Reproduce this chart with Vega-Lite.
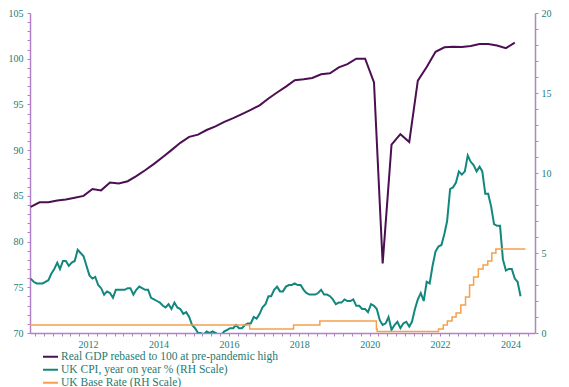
{
  "$schema": "https://vega.github.io/schema/vega-lite/v6.json",
  "width": 505,
  "height": 320,
  "autosize": {"type": "none"},
  "padding": {"left": 30, "top": 13, "right": 34, "bottom": 54},
  "background": "white",
  "config": {
    "view": {"stroke": null},
    "font": "Liberation Serif",
    "axis": {"grid": false, "labelFont": "Liberation Serif", "labelFontSize": 10, "labelColor": "#1b7d78", "domainColor": "#b27fc9", "tickColor": "#b27fc9", "domainWidth": 1.5, "tickWidth": 1, "tickSize": 3, "title": null},
    "legend": {"labelFont": "Liberation Serif", "labelFontSize": 11.5, "labelColor": "#1f7a70"}
  },
  "datasets": {
    "gdp": [
      {"date": "2010-05-15", "value": 83.8}, {"date": "2010-08-15", "value": 84.3}, {"date": "2010-11-15", "value": 84.3}, {"date": "2011-02-15", "value": 84.5},
      {"date": "2011-05-15", "value": 84.6}, {"date": "2011-08-15", "value": 84.8}, {"date": "2011-11-15", "value": 85.0}, {"date": "2012-02-15", "value": 85.75},
      {"date": "2012-05-15", "value": 85.6}, {"date": "2012-08-15", "value": 86.45}, {"date": "2012-11-15", "value": 86.35}, {"date": "2013-02-15", "value": 86.6},
      {"date": "2013-05-15", "value": 87.15}, {"date": "2013-08-15", "value": 87.8}, {"date": "2013-11-15", "value": 88.5}, {"date": "2014-02-15", "value": 89.25},
      {"date": "2014-05-15", "value": 90.0}, {"date": "2014-08-15", "value": 90.8}, {"date": "2014-11-15", "value": 91.45}, {"date": "2015-02-15", "value": 91.7},
      {"date": "2015-05-15", "value": 92.2}, {"date": "2015-08-15", "value": 92.6}, {"date": "2015-11-15", "value": 93.1}, {"date": "2016-02-15", "value": 93.5},
      {"date": "2016-05-15", "value": 93.95}, {"date": "2016-08-15", "value": 94.4}, {"date": "2016-11-15", "value": 94.9}, {"date": "2017-02-15", "value": 95.65},
      {"date": "2017-05-15", "value": 96.3}, {"date": "2017-08-15", "value": 96.95}, {"date": "2017-11-15", "value": 97.65}, {"date": "2018-02-15", "value": 97.75},
      {"date": "2018-05-15", "value": 97.9}, {"date": "2018-08-15", "value": 98.3}, {"date": "2018-11-15", "value": 98.4}, {"date": "2019-02-15", "value": 99.05},
      {"date": "2019-05-15", "value": 99.4}, {"date": "2019-08-15", "value": 100.0}, {"date": "2019-11-15", "value": 100.0}, {"date": "2020-02-15", "value": 97.4},
      {"date": "2020-05-15", "value": 77.6}, {"date": "2020-08-15", "value": 90.6}, {"date": "2020-11-15", "value": 91.75}, {"date": "2021-02-15", "value": 90.9},
      {"date": "2021-05-15", "value": 97.6}, {"date": "2021-08-15", "value": 99.1}, {"date": "2021-11-15", "value": 100.75}, {"date": "2022-02-15", "value": 101.25},
      {"date": "2022-05-15", "value": 101.3}, {"date": "2022-08-15", "value": 101.28}, {"date": "2022-11-15", "value": 101.4}, {"date": "2023-02-15", "value": 101.6},
      {"date": "2023-05-15", "value": 101.6}, {"date": "2023-08-15", "value": 101.45}, {"date": "2023-11-15", "value": 101.15}, {"date": "2024-02-15", "value": 101.75}
    ],
    "cpi": [
      {"date": "2010-05-15", "value": 3.4}, {"date": "2010-06-15", "value": 3.2}, {"date": "2010-07-15", "value": 3.1}, {"date": "2010-08-15", "value": 3.1},
      {"date": "2010-09-15", "value": 3.1}, {"date": "2010-10-15", "value": 3.2}, {"date": "2010-11-15", "value": 3.3}, {"date": "2010-12-15", "value": 3.7},
      {"date": "2011-01-15", "value": 4.0}, {"date": "2011-02-15", "value": 4.4}, {"date": "2011-03-15", "value": 4.0}, {"date": "2011-04-15", "value": 4.5},
      {"date": "2011-05-15", "value": 4.5}, {"date": "2011-06-15", "value": 4.2}, {"date": "2011-07-15", "value": 4.4}, {"date": "2011-08-15", "value": 4.5},
      {"date": "2011-09-15", "value": 5.2}, {"date": "2011-10-15", "value": 5.0}, {"date": "2011-11-15", "value": 4.8}, {"date": "2011-12-15", "value": 4.2},
      {"date": "2012-01-15", "value": 3.6}, {"date": "2012-02-15", "value": 3.4}, {"date": "2012-03-15", "value": 3.5}, {"date": "2012-04-15", "value": 3.0},
      {"date": "2012-05-15", "value": 2.8}, {"date": "2012-06-15", "value": 2.4}, {"date": "2012-07-15", "value": 2.6}, {"date": "2012-08-15", "value": 2.5},
      {"date": "2012-09-15", "value": 2.2}, {"date": "2012-10-15", "value": 2.7}, {"date": "2012-11-15", "value": 2.7}, {"date": "2012-12-15", "value": 2.7},
      {"date": "2013-01-15", "value": 2.7}, {"date": "2013-02-15", "value": 2.8}, {"date": "2013-03-15", "value": 2.8}, {"date": "2013-04-15", "value": 2.4},
      {"date": "2013-05-15", "value": 2.7}, {"date": "2013-06-15", "value": 2.9}, {"date": "2013-07-15", "value": 2.8}, {"date": "2013-08-15", "value": 2.7},
      {"date": "2013-09-15", "value": 2.7}, {"date": "2013-10-15", "value": 2.2}, {"date": "2013-11-15", "value": 2.1}, {"date": "2013-12-15", "value": 2.0},
      {"date": "2014-01-15", "value": 1.9}, {"date": "2014-02-15", "value": 1.7}, {"date": "2014-03-15", "value": 1.6}, {"date": "2014-04-15", "value": 1.8},
      {"date": "2014-05-15", "value": 1.5}, {"date": "2014-06-15", "value": 1.9}, {"date": "2014-07-15", "value": 1.6}, {"date": "2014-08-15", "value": 1.5},
      {"date": "2014-09-15", "value": 1.2}, {"date": "2014-10-15", "value": 1.3}, {"date": "2014-11-15", "value": 1.0}, {"date": "2014-12-15", "value": 0.5},
      {"date": "2015-01-15", "value": 0.3}, {"date": "2015-02-15", "value": 0.0}, {"date": "2015-03-15", "value": 0.0}, {"date": "2015-04-15", "value": -0.1},
      {"date": "2015-05-15", "value": 0.1}, {"date": "2015-06-15", "value": 0.0}, {"date": "2015-07-15", "value": 0.1}, {"date": "2015-08-15", "value": 0.0},
      {"date": "2015-09-15", "value": -0.1}, {"date": "2015-10-15", "value": -0.1}, {"date": "2015-11-15", "value": 0.1}, {"date": "2015-12-15", "value": 0.2},
      {"date": "2016-01-15", "value": 0.3}, {"date": "2016-02-15", "value": 0.3}, {"date": "2016-03-15", "value": 0.5}, {"date": "2016-04-15", "value": 0.3},
      {"date": "2016-05-15", "value": 0.3}, {"date": "2016-06-15", "value": 0.5}, {"date": "2016-07-15", "value": 0.6}, {"date": "2016-08-15", "value": 0.6},
      {"date": "2016-09-15", "value": 1.0}, {"date": "2016-10-15", "value": 0.9}, {"date": "2016-11-15", "value": 1.2}, {"date": "2016-12-15", "value": 1.6},
      {"date": "2017-01-15", "value": 1.8}, {"date": "2017-02-15", "value": 2.3}, {"date": "2017-03-15", "value": 2.3}, {"date": "2017-04-15", "value": 2.7},
      {"date": "2017-05-15", "value": 2.9}, {"date": "2017-06-15", "value": 2.6}, {"date": "2017-07-15", "value": 2.6}, {"date": "2017-08-15", "value": 2.9},
      {"date": "2017-09-15", "value": 3.0}, {"date": "2017-10-15", "value": 3.0}, {"date": "2017-11-15", "value": 3.1}, {"date": "2017-12-15", "value": 3.0},
      {"date": "2018-01-15", "value": 3.0}, {"date": "2018-02-15", "value": 2.7}, {"date": "2018-03-15", "value": 2.5}, {"date": "2018-04-15", "value": 2.4},
      {"date": "2018-05-15", "value": 2.4}, {"date": "2018-06-15", "value": 2.4}, {"date": "2018-07-15", "value": 2.5}, {"date": "2018-08-15", "value": 2.7},
      {"date": "2018-09-15", "value": 2.4}, {"date": "2018-10-15", "value": 2.4}, {"date": "2018-11-15", "value": 2.3}, {"date": "2018-12-15", "value": 2.1},
      {"date": "2019-01-15", "value": 1.8}, {"date": "2019-02-15", "value": 1.9}, {"date": "2019-03-15", "value": 1.9}, {"date": "2019-04-15", "value": 2.1},
      {"date": "2019-05-15", "value": 2.0}, {"date": "2019-06-15", "value": 2.0}, {"date": "2019-07-15", "value": 2.1}, {"date": "2019-08-15", "value": 1.7},
      {"date": "2019-09-15", "value": 1.7}, {"date": "2019-10-15", "value": 1.5}, {"date": "2019-11-15", "value": 1.5}, {"date": "2019-12-15", "value": 1.3},
      {"date": "2020-01-15", "value": 1.8}, {"date": "2020-02-15", "value": 1.7}, {"date": "2020-03-15", "value": 1.5}, {"date": "2020-04-15", "value": 0.8},
      {"date": "2020-05-15", "value": 0.5}, {"date": "2020-06-15", "value": 0.6}, {"date": "2020-07-15", "value": 1.0}, {"date": "2020-08-15", "value": 0.2},
      {"date": "2020-09-15", "value": 0.5}, {"date": "2020-10-15", "value": 0.7}, {"date": "2020-11-15", "value": 0.3}, {"date": "2020-12-15", "value": 0.6},
      {"date": "2021-01-15", "value": 0.7}, {"date": "2021-02-15", "value": 0.4}, {"date": "2021-03-15", "value": 0.7}, {"date": "2021-04-15", "value": 1.5},
      {"date": "2021-05-15", "value": 2.1}, {"date": "2021-06-15", "value": 2.5}, {"date": "2021-07-15", "value": 2.0}, {"date": "2021-08-15", "value": 3.2},
      {"date": "2021-09-15", "value": 3.1}, {"date": "2021-10-15", "value": 4.2}, {"date": "2021-11-15", "value": 5.1}, {"date": "2021-12-15", "value": 5.4},
      {"date": "2022-01-15", "value": 5.5}, {"date": "2022-02-15", "value": 6.2}, {"date": "2022-03-15", "value": 7.0}, {"date": "2022-04-15", "value": 9.0},
      {"date": "2022-05-15", "value": 9.1}, {"date": "2022-06-15", "value": 9.4}, {"date": "2022-07-15", "value": 10.1}, {"date": "2022-08-15", "value": 9.9},
      {"date": "2022-09-15", "value": 10.1}, {"date": "2022-10-15", "value": 11.1}, {"date": "2022-11-15", "value": 10.7}, {"date": "2022-12-15", "value": 10.5},
      {"date": "2023-01-15", "value": 10.1}, {"date": "2023-02-15", "value": 10.4}, {"date": "2023-03-15", "value": 10.1}, {"date": "2023-04-15", "value": 8.7},
      {"date": "2023-05-15", "value": 8.7}, {"date": "2023-06-15", "value": 7.9}, {"date": "2023-07-15", "value": 6.8}, {"date": "2023-08-15", "value": 6.7},
      {"date": "2023-09-15", "value": 6.7}, {"date": "2023-10-15", "value": 4.6}, {"date": "2023-11-15", "value": 3.9}, {"date": "2023-12-15", "value": 4.0},
      {"date": "2024-01-15", "value": 4.0}, {"date": "2024-02-15", "value": 3.4}, {"date": "2024-03-15", "value": 3.2}, {"date": "2024-04-15", "value": 2.3}
    ],
    "rate": [
      {"date": "2010-05-08", "value": 0.5}, {"date": "2016-08-04", "value": 0.25}, {"date": "2017-11-02", "value": 0.5}, {"date": "2018-08-02", "value": 0.75},
      {"date": "2020-03-11", "value": 0.25}, {"date": "2020-03-19", "value": 0.1}, {"date": "2021-12-16", "value": 0.25}, {"date": "2022-02-03", "value": 0.5},
      {"date": "2022-03-17", "value": 0.75}, {"date": "2022-05-05", "value": 1.0}, {"date": "2022-06-16", "value": 1.25}, {"date": "2022-08-04", "value": 1.75},
      {"date": "2022-09-22", "value": 2.25}, {"date": "2022-11-03", "value": 3.0}, {"date": "2022-12-15", "value": 3.5}, {"date": "2023-02-02", "value": 4.0},
      {"date": "2023-03-23", "value": 4.25}, {"date": "2023-05-11", "value": 4.5}, {"date": "2023-06-22", "value": 5.0}, {"date": "2023-08-03", "value": 5.25},
      {"date": "2024-06-05", "value": 5.25}
    ]
  },
  "layer": [
    {
      "data": {"name": "gdp"},
      "mark": {"type": "line", "strokeWidth": 2, "clip": true},
      "encoding": {
        "x": {"field": "date", "type": "temporal",
              "scale": {"domain": [{"year": 2010, "month": 5, "date": 8}, {"year": 2024, "month": 9, "date": 12}]},
              "axis": {"tickCount": {"interval": "month", "step": 3}, "labelOverlap": false, "labelPadding": 3, "labelFontSize": 10,
                       "labelExpr": "month(datum.value) === 0 && year(datum.value) % 2 === 0 ? timeFormat(datum.value, '%Y') : ''"}},
        "y": {"field": "value", "type": "quantitative",
              "scale": {"domain": [70, 105], "nice": false, "zero": false},
              "axis": {"values": [70,71,72,73,74,75,76,77,78,79,80,81,82,83,84,85,86,87,88,89,90,91,92,93,94,95,96,97,98,99,100,101,102,103,104,105],
                       "labelExpr": "datum.value % 5 === 0 ? datum.label : ''", "labelPadding": 4, "labelOverlap": false}},
        "color": {"datum": "Real GDP rebased to 100 at pre-pandemic high", "type": "nominal",
                  "scale": {"domain": ["Real GDP rebased to 100 at pre-pandemic high", "UK CPI, year on year % (RH Scale)", "UK Base Rate (RH Scale)"],
                            "range": ["#4b0f52", "#12877e", "#f4a04c"]},
                  "legend": {"orient": "none", "legendX": 12, "legendY": 338, "title": null, "symbolType": "stroke", "symbolStrokeWidth": 2, "symbolSize": 225, "clipHeight": 11.5, "rowPadding": 0, "labelOffset": 2, "padding": 0, "labelLimit": 400}}
      }
    },
    {
      "layer": [
        {
          "data": {"name": "cpi"},
          "mark": {"type": "line", "strokeWidth": 2, "clip": true},
          "encoding": {
            "x": {"field": "date", "type": "temporal"},
            "y": {"field": "value", "type": "quantitative",
                  "scale": {"domain": [0, 20], "nice": false},
                  "axis": {"orient": "right", "values": [0,1,2,3,4,5,6,7,8,9,10,11,12,13,14,15,16,17,18,19,20],
                           "labelExpr": "datum.value % 5 === 0 ? datum.label : ''", "labelPadding": 3, "labelOverlap": false, "domainColor": "#a98bbd", "tickColor": "#a98bbd"}},
            "color": {"datum": "UK CPI, year on year % (RH Scale)", "type": "nominal"}
          }
        },
        {
          "data": {"name": "rate"},
          "mark": {"type": "line", "strokeWidth": 1.5, "interpolate": "step-after", "clip": true},
          "encoding": {
            "x": {"field": "date", "type": "temporal"},
            "y": {"field": "value", "type": "quantitative",
                  "axis": {"orient": "right", "values": [0,1,2,3,4,5,6,7,8,9,10,11,12,13,14,15,16,17,18,19,20],
                           "labelExpr": "datum.value % 5 === 0 ? datum.label : ''", "labelPadding": 3, "labelOverlap": false, "domainColor": "#a98bbd", "tickColor": "#a98bbd"}},
            "color": {"datum": "UK Base Rate (RH Scale)", "type": "nominal"}
          }
        }
      ]
    }
  ],
  "resolve": {"scale": {"y": "independent"}, "axis": {"y": "independent"}}
}
